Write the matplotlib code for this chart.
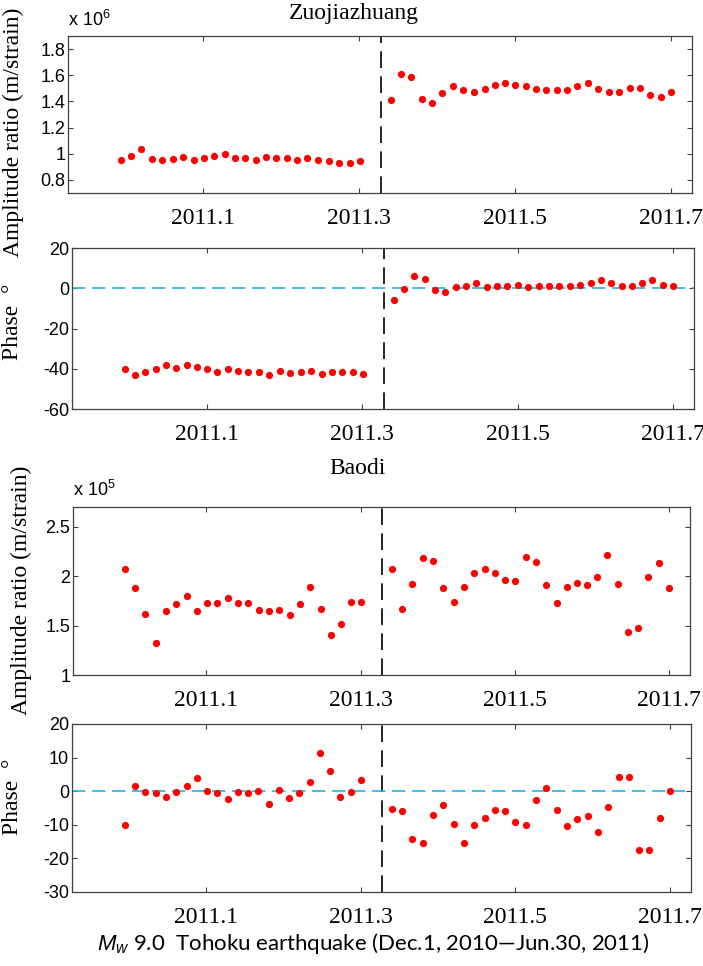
import matplotlib
matplotlib.use('Agg')
import matplotlib.pyplot as plt

plt.rcParams['mathtext.fontset'] = 'custom'
plt.rcParams['mathtext.rm'] = 'Liberation Sans'
plt.rcParams['mathtext.it'] = 'Liberation Sans:italic'
plt.rcParams['mathtext.default'] = 'regular'

# time axis: 2011.1 = Jan 1, 2011.3 = Mar 1, 2011.5 = May 1, 2011.7 = Jul 1
x_before = [2010.995, 2011.008, 2011.021, 2011.035, 2011.048, 2011.061, 2011.075, 2011.088,
            2011.101, 2011.114, 2011.128, 2011.141, 2011.154, 2011.168, 2011.181, 2011.194,
            2011.208, 2011.221, 2011.234, 2011.248, 2011.261, 2011.274, 2011.288, 2011.301]
x_after = [2011.341, 2011.354, 2011.367, 2011.381, 2011.394, 2011.407, 2011.421, 2011.434,
           2011.447, 2011.461, 2011.474, 2011.487, 2011.500, 2011.514, 2011.527, 2011.540,
           2011.554, 2011.567, 2011.580, 2011.594, 2011.607, 2011.620, 2011.634, 2011.647,
           2011.660, 2011.673, 2011.687, 2011.700]
quake_x = 2011.328

xticks = [2011.1, 2011.3, 2011.5, 2011.7]
xticklabels = ['2011.1', '2011.3', '2011.5', '2011.7']

# Zuojiazhuang amplitude ratio (x 1e6)
zjz_amp_before = [0.954, 0.985, 1.038, 0.962, 0.951, 0.962, 0.974, 0.951, 0.964, 0.985, 0.995, 0.964,
                  0.964, 0.951, 0.974, 0.964, 0.964, 0.951, 0.964, 0.951, 0.941, 0.931, 0.931, 0.941]
zjz_amp_after = [1.410, 1.610, 1.590, 1.418, 1.387, 1.462, 1.515, 1.485, 1.472, 1.492, 1.523, 1.538,
                 1.523, 1.515, 1.492, 1.485, 1.485, 1.485, 1.515, 1.538, 1.492, 1.474, 1.474, 1.505,
                 1.505, 1.451, 1.431, 1.474]
# Zuojiazhuang phase (deg)
zjz_ph_before = [-40.1, -43.1, -41.6, -40.2, -38.3, -39.8, -38.3, -38.9, -40.2, -41.7, -40.2, -40.9,
                 -41.7, -41.7, -43.1, -40.9, -42.2, -41.7, -40.9, -42.4, -41.7, -41.7, -41.7, -42.4]
zjz_ph_after = [-6.0, -0.3, 6.1, 4.6, -1.0, -1.7, 0.5, 1.3, 2.5, 0.5, 1.3, 1.3, 1.8, 0.5, 1.2, 1.3,
                1.2, 1.3, 1.8, 2.6, 4.0, 2.5, 1.3, 1.3, 2.5, 4.0, 1.8, 1.3]
# Baodi amplitude ratio (x 1e5)
bd_amp_before = [2.074, 1.879, 1.616, 1.323, 1.643, 1.714, 1.795, 1.643, 1.727, 1.727, 1.781, 1.727,
                 1.727, 1.657, 1.643, 1.657, 1.603, 1.714, 1.892, 1.670, 1.407, 1.519, 1.741, 1.741]
bd_amp_after = [2.071, 1.670, 1.919, 2.182, 2.155, 1.879, 1.741, 1.892, 2.030, 2.074, 2.030, 1.960,
                1.949, 2.199, 2.145, 1.906, 1.727, 1.892, 1.933, 1.906, 1.990, 2.212, 1.919, 1.434,
                1.478, 1.990, 2.131, 1.879]
# Baodi phase (deg)
bd_ph_before = [-10.0, 1.6, -0.2, -0.6, -1.8, -0.2, 1.6, 4.0, 0.0, -0.5, -2.2, -0.2,
                -0.5, 0.0, -3.8, 0.3, -2.1, -0.5, 2.8, 11.5, 6.1, -1.7, -0.1, 3.2]
bd_ph_after = [-5.4, -5.9, -14.1, -15.3, -7.1, -4.2, -9.7, -15.3, -10.0, -7.9, -5.5, -5.9, -9.1, -10.0,
               -2.5, 0.9, -5.5, -10.5, -8.4, -7.5, -12.0, -4.6, 4.1, 4.1, -17.4, -17.4, -7.9, 0.0]

W, H = 703, 966
fig = plt.figure(figsize=(W / 100, H / 100), dpi=100)


def make_ax(left, right, top, bottom):
    return fig.add_axes([left / W, 1 - bottom / H, (right - left) / W, (bottom - top) / H])


def style(ax, ylim, yticks, yticklabels):
    ax.set_xlim(2010.927, 2011.727)
    ax.set_ylim(*ylim)
    ax.set_xticks(xticks)
    ax.set_xticklabels(xticklabels, family='Liberation Serif', fontsize=17)
    ax.set_yticks(yticks)
    ax.set_yticklabels(yticklabels, family='Liberation Sans', fontsize=13)
    ax.tick_params(axis='both', direction='in', top=True, right=True, length=3.5,
                   width=0.8, color='#404040')
    ax.tick_params(axis='x', pad=11)
    ax.tick_params(axis='y', pad=2)
    for s in ax.spines.values():
        s.set_color('#404040')
        s.set_linewidth(0.9)
    ax.axvline(quake_x, color='black', lw=1.2, ls=(0, (10, 5)), zorder=1)


def dots(ax, xb, yb, xa, ya):
    ax.plot(xb, yb, 'o', color='red', ms=5.2, mec='none', zorder=3)
    ax.plot(xa, ya, 'o', color='red', ms=5.2, mec='none', zorder=3)


ax1 = make_ax(68, 692, 36, 193)
dots(ax1, x_before, zjz_amp_before, x_after, zjz_amp_after)
style(ax1, (0.7, 1.9), [0.8, 1.0, 1.2, 1.4, 1.6, 1.8], ['0.8', '1', '1.2', '1.4', '1.6', '1.8'])

ax2 = make_ax(72, 694, 248, 409)
ax2.axhline(0, color='#1EB4E6', lw=1.2, ls=(0, (8, 4)), zorder=2)
dots(ax2, x_before, zjz_ph_before, x_after, zjz_ph_after)
style(ax2, (-60, 20), [-60, -40, -20, 0, 20], ['-60', '-40', '-20', '0', '20'])

ax3 = make_ax(73, 690, 507, 675)
dots(ax3, x_before, bd_amp_before, x_after, bd_amp_after)
style(ax3, (1.0, 2.7), [1.0, 1.5, 2.0, 2.5], ['1', '1.5', '2', '2.5'])

ax4 = make_ax(72, 691, 724, 892)
ax4.axhline(0, color='#1EB4E6', lw=1.2, ls=(0, (8, 4)), zorder=2)
dots(ax4, x_before, bd_ph_before, x_after, bd_ph_after)
style(ax4, (-30, 20), [-30, -20, -10, 0, 10, 20], ['-30', '-20', '-10', '0', '10', '20'])

# texts placed in pixel coordinates of the original figure
def ftext(x, y, s, **kw):
    fig.text(x / W, 1 - y / H, s, **kw)


ftext(354, 14, 'Zuojiazhuang', family='Liberation Serif', fontsize=17, ha='center', va='center')
ftext(358, 468, 'Baodi', family='Liberation Serif', fontsize=17, ha='center', va='center')
ftext(68, 20, r'x 10$^{6}$', family='Liberation Sans', fontsize=13, ha='left', va='center')
ftext(73, 490, r'x 10$^{5}$', family='Liberation Sans', fontsize=13, ha='left', va='center')
ftext(13, 132, 'Amplitude ratio (m/strain)', family='Liberation Serif', fontsize=17,
      rotation=90, ha='center', va='center')
ftext(21, 590, 'Amplitude ratio (m/strain)', family='Liberation Serif', fontsize=17,
      rotation=90, ha='center', va='center')
ftext(12, 322, 'Phase  \u00b0', family='Liberation Serif', fontsize=17,
      rotation=90, ha='center', va='center')
ftext(12, 797, 'Phase  \u00b0', family='Liberation Serif', fontsize=17,
      rotation=90, ha='center', va='center')
ftext(373, 944, r'$\mathit{M}_{\mathit{w}}$' + ' 9.0  Tohoku earthquake (Dec.1, 2010\u2014Jun.30, 2011)',
      family='Lato', fontsize=16, ha='center', va='center')

fig.savefig('out.png', dpi=100)
